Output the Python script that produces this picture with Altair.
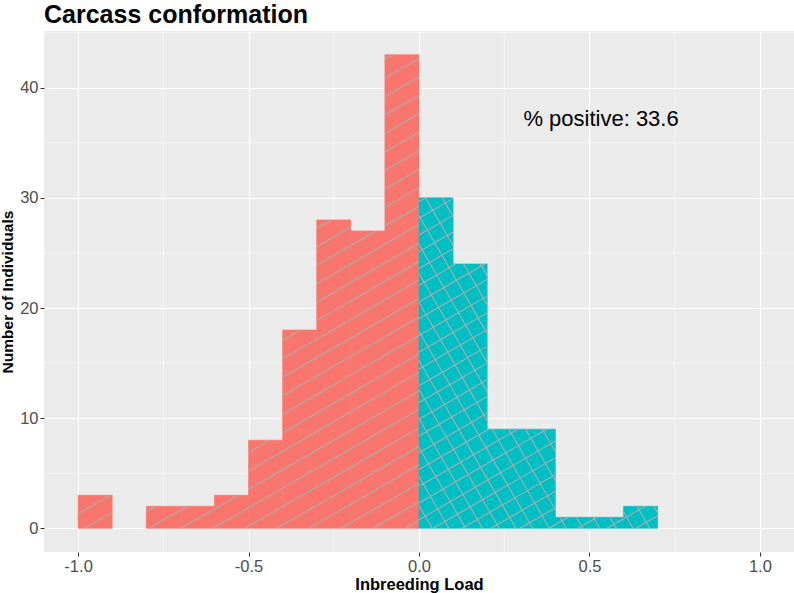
import altair as alt
import pandas as pd
import numpy as np

# ---- data ----
bin_start = [-1.0, -0.8, -0.7, -0.6, -0.5, -0.4, -0.3, -0.2, -0.1, 0.0, 0.1, 0.2, 0.3, 0.4, 0.5, 0.6]
bin_end = [-0.9, -0.7, -0.6, -0.5, -0.4, -0.3, -0.2, -0.1, 0.0, 0.1, 0.2, 0.3, 0.4, 0.5, 0.6, 0.7]
counts = [3, 2, 2, 3, 8, 18, 28, 27, 43, 30, 24, 9, 9, 1, 1, 2]
x_ticks = [-1.0, -0.5, 0.0, 0.5, 1.0]
x_minor = [-0.75, -0.25, 0.25, 0.75]
y_ticks = [0, 10, 20, 30, 40]
y_minor = [5, 15, 25, 35, 45]
annot_text = ["% positive: 33.6"]
annot_x = [0.534]
annot_y = [37.2]

# ---- layout / style ----
XD = (-1.1, 1.1)
YD = (-2.15, 45.15)
W, H = 750, 521
RED, TEAL = "#F8766D", "#00BFC4"
FONT = "Liberation Sans"

bars = pd.DataFrame({"start": bin_start, "end": bin_end, "count": counts})
bars["sign"] = np.where(bars["start"] >= 0, "pos", "neg")

sx = W / (XD[1] - XD[0])
sy = H / (YD[1] - YD[0])


def hatch(x0, x1, y0, y1, angle_deg, spacing):
    X0, X1 = (x0 - XD[0]) * sx, (x1 - XD[0]) * sx
    Y0, Y1 = (y0 - YD[0]) * sy, (y1 - YD[0]) * sy
    a = np.radians(angle_deg)
    ux, uy = np.cos(a), np.sin(a)
    nx, ny = -np.sin(a), np.cos(a)
    proj = [nx * cx + ny * cy for cx in (X0, X1) for cy in (Y0, Y1)]
    segs = []
    for k in range(int(np.ceil(min(proj) / spacing)), int(np.floor(max(proj) / spacing)) + 1):
        bx, by = k * spacing * nx, k * spacing * ny
        lo, hi = -1e9, 1e9
        for b, u, A, B in ((bx, ux, X0, X1), (by, uy, Y0, Y1)):
            if abs(u) < 1e-12:
                if not (A <= b <= B):
                    lo, hi = 1, 0
                continue
            t1, t2 = (A - b) / u, (B - b) / u
            lo, hi = max(lo, min(t1, t2)), min(hi, max(t1, t2))
        if hi - lo > 0.5:
            p = [(bx + lo * ux, by + lo * uy), (bx + hi * ux, by + hi * uy)]
            segs.append({
                "x": p[0][0] / sx + XD[0], "y": p[0][1] / sy + YD[0],
                "x2": p[1][0] / sx + XD[0], "y2": p[1][1] / sy + YD[0],
            })
    return segs


rows = []
for s, e, c, g in zip(bars["start"], bars["end"], bars["count"], bars["sign"]):
    if g == "neg":
        rows += hatch(s, e, 0, c, 30, 16.0)
    else:
        rows += hatch(s, e, 0, c, 30, 14.5)
        rows += hatch(s, e, 0, c, 120, 14.5)
hatch_df = pd.DataFrame(rows)

xscale = alt.Scale(domain=list(XD), nice=False, zero=False)
yscale = alt.Scale(domain=list(YD), nice=False, zero=False)
xaxis = alt.Axis(
    values=x_ticks, title="Inbreeding Load",
    labelExpr="replace(format(datum.value, '.1f'), '\u2212', '-')",
)
yaxis = alt.Axis(values=y_ticks, title="Number of Individuals")

xminor = alt.Chart(pd.DataFrame({"v": x_minor})).mark_rule(
    color="white", strokeWidth=0.55
).encode(x=alt.X("v:Q", scale=xscale, axis=xaxis))
yminor = alt.Chart(pd.DataFrame({"v": y_minor})).mark_rule(
    color="white", strokeWidth=0.55
).encode(y=alt.Y("v:Q", scale=yscale, axis=yaxis))

bar_layer = alt.Chart(bars).mark_rect(strokeWidth=0.6).encode(
    x=alt.X("start:Q", scale=xscale, axis=xaxis),
    x2="end:Q",
    y=alt.Y("count:Q", scale=yscale, axis=yaxis),
    y2=alt.datum(0),
    fill=alt.Fill("sign:N", scale=alt.Scale(domain=["neg", "pos"], range=[RED, TEAL]), legend=None),
    stroke=alt.Stroke("sign:N", scale=alt.Scale(domain=["neg", "pos"], range=[RED, TEAL]), legend=None),
)

hatch_layer = alt.Chart(hatch_df).mark_rule(color="#ADADAD", strokeWidth=1.1).encode(
    x=alt.X("x:Q", scale=xscale, axis=xaxis),
    y=alt.Y("y:Q", scale=yscale, axis=yaxis),
    x2="x2:Q",
    y2="y2:Q",
)

text_layer = alt.Chart(pd.DataFrame({"t": annot_text, "x": annot_x, "y": annot_y})).mark_text(
    fontSize=22, font=FONT, color="black"
).encode(
    x=alt.X("x:Q", scale=xscale, axis=xaxis),
    y=alt.Y("y:Q", scale=yscale, axis=yaxis),
    text="t:N",
)

chart = alt.layer(xminor, yminor, bar_layer, hatch_layer, text_layer).properties(
    width=W, height=H,
    autosize="none",
    padding={"left": 44, "top": 31, "right": 0, "bottom": 41},
    title=alt.TitleParams("Carcass conformation", anchor="start", fontSize=25, fontWeight="bold",
                          font=FONT, color="black", offset=3, frame="group"),
).configure_view(
    fill="#EBEBEB", stroke=None
).configure_axis(
    grid=True, gridColor="white", gridWidth=1.1, domain=False,
    tickColor="#333333", tickSize=4, tickWidth=1,
    labelColor="#4D4D4D", labelFontSize=16.5, labelFont=FONT, labelPadding=2,
    titleFont=FONT, titleFontSize=16.5, titleFontWeight="bold", titleColor="black",
).configure_axisY(titlePadding=4, titleFontSize=15.5).configure_axisX(titlePadding=2)

chart.save("out.html", embed_options={"renderer": "svg", "actions": False})
